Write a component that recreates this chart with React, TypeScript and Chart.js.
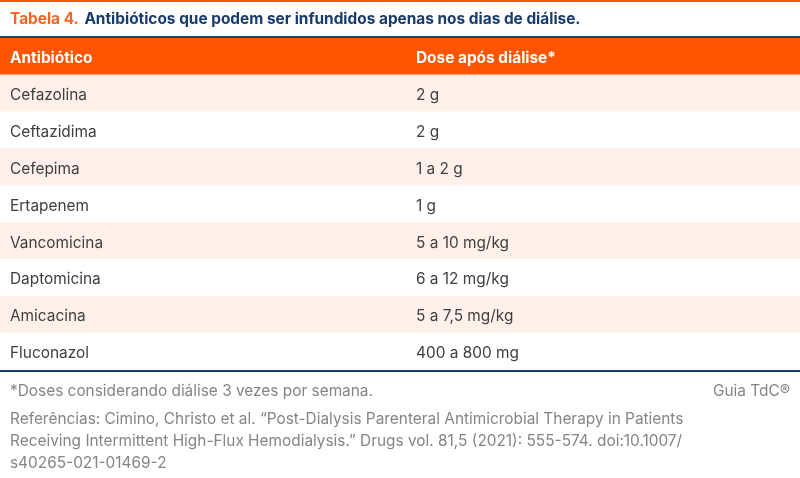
import React, { useEffect, useRef } from "react";
import { Chart, registerables } from "chart.js";

Chart.register(...registerables);

const titleLabel = "Tabela 4.";
const titleText = "Antibióticos que podem ser infundidos apenas nos dias de diálise.";
const headers = ["Antibiótico", "Dose após diálise*"];
const antibiotics = [
  "Cefazolina",
  "Ceftazidima",
  "Cefepima",
  "Ertapenem",
  "Vancomicina",
  "Daptomicina",
  "Amicacina",
  "Fluconazol",
];
const doses = [
  "2 g",
  "2 g",
  "1 a 2 g",
  "1 g",
  "5 a 10 mg/kg",
  "6 a 12 mg/kg",
  "5 a 7,5 mg/kg",
  "400 a 800 mg",
];
const footnote = "*Doses considerando diálise 3 vezes por semana.";
const brand = "Guia TdC®";
const references = [
  "Referências: Cimino, Christo et al. “Post-Dialysis Parenteral Antimicrobial Therapy in Patients",
  "Receiving Intermittent High-Flux Hemodialysis.” Drugs vol. 81,5 (2021): 555-574. doi:10.1007/",
  "s40265-021-01469-2",
];

const ORANGE = "#FF5500";
const NAVY = "#173B6C";
const PEACH = "#FFF1EA";
const TEXT = "#404040";
const GRAY = "#858585";
const FONT = "Inter, 'Noto Sans', sans-serif";
const FS = 15.4;

export default function App() {
  const ref = useRef<HTMLCanvasElement | null>(null);

  useEffect(() => {
    document.body.style.margin = "0";
    const rows = [headers[0], ...antibiotics];
    const secondCol = [headers[1], ...doses];
    const bgColors = rows.map((_, i) => (i === 0 ? ORANGE : i % 2 === 1 ? PEACH : "#FFFFFF"));

    const tablePlugin = {
      id: "tableDecor",
      afterDraw(chart: any) {
        const ctx = chart.ctx as CanvasRenderingContext2D;
        const y = chart.scales.y;
        const area = chart.chartArea;
        const W = chart.width;
        ctx.save();
        ctx.fillStyle = ORANGE;
        ctx.fillRect(0, 0, W, 2);
        ctx.textBaseline = "middle";
        ctx.textAlign = "left";
        ctx.font = `bold ${FS}px ${FONT}`;
        ctx.fillStyle = "#F26522";
        ctx.fillText(titleLabel, 10, 19);
        const tw = ctx.measureText(titleLabel + " ").width;
        ctx.fillStyle = NAVY;
        ctx.fillText(titleText, 10 + tw + 2, 19);
        ctx.fillStyle = "#2E3F55";
        ctx.fillRect(0, area.top - 2, W, 2);
        rows.forEach((t, i) => {
          const py = y.getPixelForValue(i) + 2;
          ctx.font = i === 0 ? `bold ${FS}px ${FONT}` : `${FS}px ${FONT}`;
          ctx.fillStyle = i === 0 ? "#FFFFFF" : TEXT;
          ctx.fillText(t, 10, py);
          ctx.fillText(secondCol[i], 416, py);
        });
        ctx.fillStyle = NAVY;
        ctx.fillRect(0, area.bottom, W, 2);
        ctx.font = `${FS}px ${FONT}`;
        ctx.fillStyle = GRAY;
        ctx.fillText(footnote, 10, area.bottom + 21);
        ctx.textAlign = "right";
        ctx.fillText(brand, 790, area.bottom + 21);
        ctx.textAlign = "left";
        references.forEach((line, i) => {
          ctx.fillText(line, 10, area.bottom + 49 + i * 22);
        });
        ctx.restore();
      },
    };

    const chart = new Chart(ref.current as HTMLCanvasElement, {
      type: "bar",
      data: {
        labels: rows,
        datasets: [
          {
            data: rows.map(() => 1),
            backgroundColor: bgColors,
            borderWidth: 0,
            barPercentage: 1,
            categoryPercentage: 1,
          },
        ],
      },
      options: {
        indexAxis: "y",
        animation: false,
        responsive: true,
        maintainAspectRatio: false,
        layout: { padding: { top: 38, bottom: 108, left: 0, right: 0 } },
        plugins: { legend: { display: false }, tooltip: { enabled: false } },
        scales: {
          x: { display: false, min: 0, max: 1 },
          y: { type: "category", display: false },
        },
      },
      plugins: [tablePlugin],
    } as any);
    return () => chart.destroy();
  }, []);

  return (
    <div style={{ width: 800, height: 478, position: "relative", background: "#fff" }}>
      <canvas ref={ref} style={{ display: "block" }} />
    </div>
  );
}
